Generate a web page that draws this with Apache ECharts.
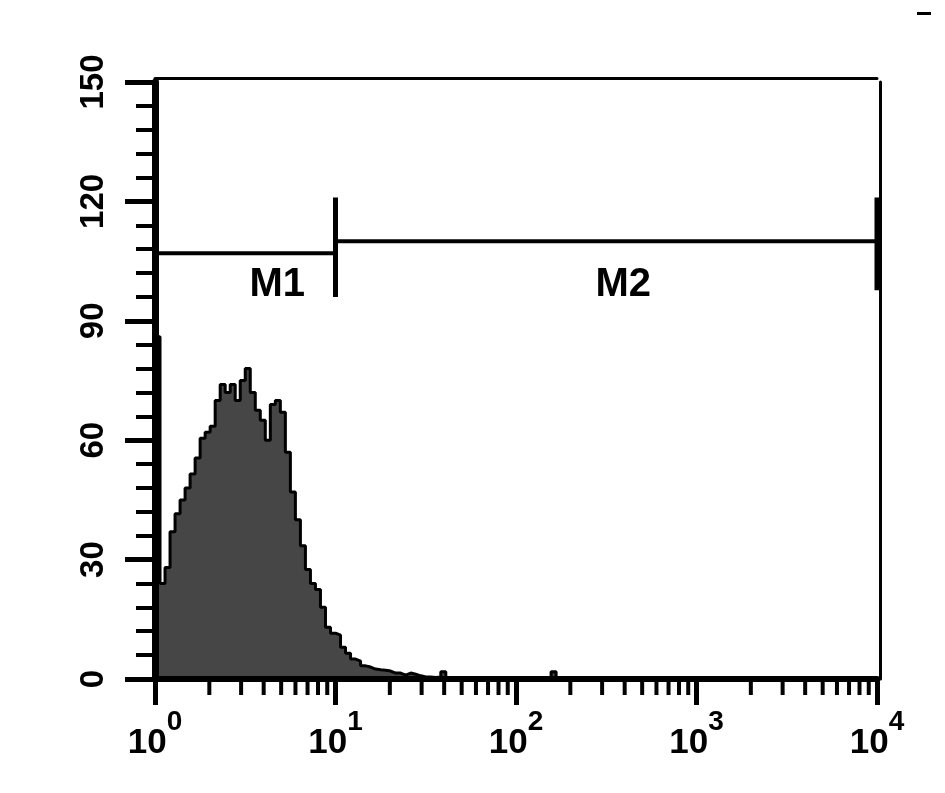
<!DOCTYPE html>
<html>
<head>
<meta charset="utf-8">
<script src="https://cdn.jsdelivr.net/npm/echarts@6/dist/echarts.min.js"></script>
<style>
html,body{margin:0;padding:0;background:#fff;}
#chart{width:945px;height:793px;}
</style>
</head>
<body>
<div id="chart"></div>
<script>
// Histogram: counts per log-spaced bin (36 bins per decade, starting at 10^0)
const binsPerDecade = 36;
const counts = [
  86, 24, 28, 37, 41.5, 45, 48, 51.5, 55.5, 60.5,
  62, 63.5, 70, 74, 72, 74, 70, 75, 78, 72,
  67.5, 65, 60, 69, 70, 67, 57, 47, 40, 33.5,
  27.5, 24, 22.5, 18, 13, 11.5, 11, 8, 6.5, 5,
  4.5, 3.3, 3, 2.5, 2.3, 2.2, 2, 1.5, 1.5, 1,
  1.5, 1.2, 0.8, 0.5, 0.5, 0.4, 0.5, 1.8, 0.4, 0.3,
  0.3, 0.4, 0.3, 0.2, 0.3, 0.2, 0.3, 0.2, 0.2, 0.3,
  0.2, 0.2, 0.3, 0.2, 0.2, 0.2, 0.2, 0.2, 0.3, 1.8,
  0.2, 0
];
// y axis ticks
const yTicks = [0, 30, 60, 90, 120, 150];
// x axis tick labels (10^n)
const xTickBase = '10';
const xExponents = ['0', '1', '2', '3', '4'];
const xMinorTicks = [2,3,4,5,6,7,8,9,20,30,40,50,60,70,80,90,200,300,400,500,600,700,800,900,2000,3000,4000,5000,6000,7000,8000,9000];
// gates
const gateNames = ['M1', 'M2'];
const gateRanges = [[1, 10], [10, 10000]];
const gateLevels = [107, 110];
const gateEndBars = [[10, 96, 121], [10000, 97.7, 121]];
const gateLabelPos = [[4.76, 99], [393, 99]];

const histData = [];
for (let i = 0; i < counts.length; i++) {
  histData.push([Math.pow(10, i / binsPerDecade), counts[i]]);
}
histData.push([Math.pow(10, counts.length / binsPerDecade), counts[counts.length - 1]]);

const font = 'Liberation Sans, Arial, sans-serif';
const series = [
  {
    type: 'line', step: 'end', data: histData, symbol: 'none',
    lineStyle: {color: '#000', width: 3},
    areaStyle: {color: '#464646', opacity: 1, origin: 'start'},
    z: 2, silent: true
  },
  {
    type: 'custom', data: xMinorTicks.map(v => [v, 0]), clip: false, z: 12, silent: true,
    renderItem: function (params, api) {
      const p = api.coord([api.value(0), 0]);
      return {type: 'line', shape: {x1: p[0], y1: p[1], x2: p[0], y2: p[1] + 16},
        style: {stroke: '#000', lineWidth: 4}};
    }
  }
];
gateRanges.forEach((r, k) => {
  series.push({
    type: 'line', data: [[r[0], gateLevels[k]], [r[1], gateLevels[k]]], symbol: 'none',
    lineStyle: {color: '#000', width: 4}, z: 5, silent: true
  });
});
gateEndBars.forEach(b => {
  series.push({
    type: 'line', data: [[b[0], b[1]], [b[0], b[2]]], symbol: 'none',
    lineStyle: {color: '#000', width: 5}, z: 5, silent: true
  });
});
series.push({
  type: 'scatter', symbolSize: 0, z: 6, silent: true,
  itemStyle: {opacity: 1},
  data: gateLabelPos.map((p, k) => ({value: p, name: gateNames[k]})),
  label: {show: true, position: 'inside', formatter: '{b}', color: '#000', opacity: 1,
    fontSize: 40, fontWeight: 'bold', fontFamily: font}
});

const chart = echarts.init(document.getElementById('chart'), null, {renderer: 'canvas'});
chart.setOption({
  animation: false,
  backgroundColor: '#fff',
  grid: {left: 155, right: 68, top: 82, bottom: 114, show: false},
  xAxis: [
    {
      type: 'log', logBase: 10, min: 1, max: 10000, splitNumber: 4, z: 10,
      axisLine: {show: true, onZero: false, lineStyle: {color: '#000', width: 6}},
      axisTick: {show: true, length: 26, lineStyle: {color: '#000', width: 5}},
      splitLine: {show: false},
      axisLabel: {
        margin: 47, color: '#000',
        formatter: function (v, idx) {
          const e = xExponents[Math.round(Math.log10(v))];
          return '{b|' + xTickBase + '}{s|' + e + '}';
        },
        rich: {
          b: {fontSize: 35, fontWeight: 'bold', fontFamily: font, lineHeight: 35, verticalAlign: 'bottom', color: '#000'},
          s: {fontSize: 28, fontWeight: 'bold', fontFamily: font, lineHeight: 28, verticalAlign: 'bottom', padding: [0, 0, 25, 0], color: '#000'}
        }
      }
    },
    {
      type: 'log', logBase: 10, min: 1, max: 10000, position: 'top', offset: 4, z: 10,
      axisLine: {show: true, onZero: false, lineStyle: {color: '#000', width: 3}},
      axisTick: {show: false}, axisLabel: {show: false}, splitLine: {show: false}
    }
  ],
  yAxis: [
    {
      type: 'value', min: yTicks[0], max: yTicks[yTicks.length - 1], interval: 30, z: 10,
      axisLine: {show: true, onZero: false, lineStyle: {color: '#000', width: 7}},
      axisTick: {show: true, length: 30, lineStyle: {color: '#000', width: 5}},
      minorTick: {show: true, splitNumber: 5, length: 19, lineStyle: {color: '#000', width: 4}},
      splitLine: {show: false},
      axisLabel: {rotate: 90, margin: 45, color: '#000', fontSize: 33, fontWeight: 'bold', fontFamily: font}
    },
    {
      type: 'value', min: 0, max: 150, position: 'right', offset: 3, z: 10,
      axisLine: {show: true, onZero: false, lineStyle: {color: '#000', width: 3}},
      axisTick: {show: false}, axisLabel: {show: false}, splitLine: {show: false}
    }
  ],
  graphic: [
    {type: 'rect', left: 917, top: 12, shape: {width: 14, height: 3}, style: {fill: '#000'}}
  ],
  series: series
});
</script>
</body>
</html>
